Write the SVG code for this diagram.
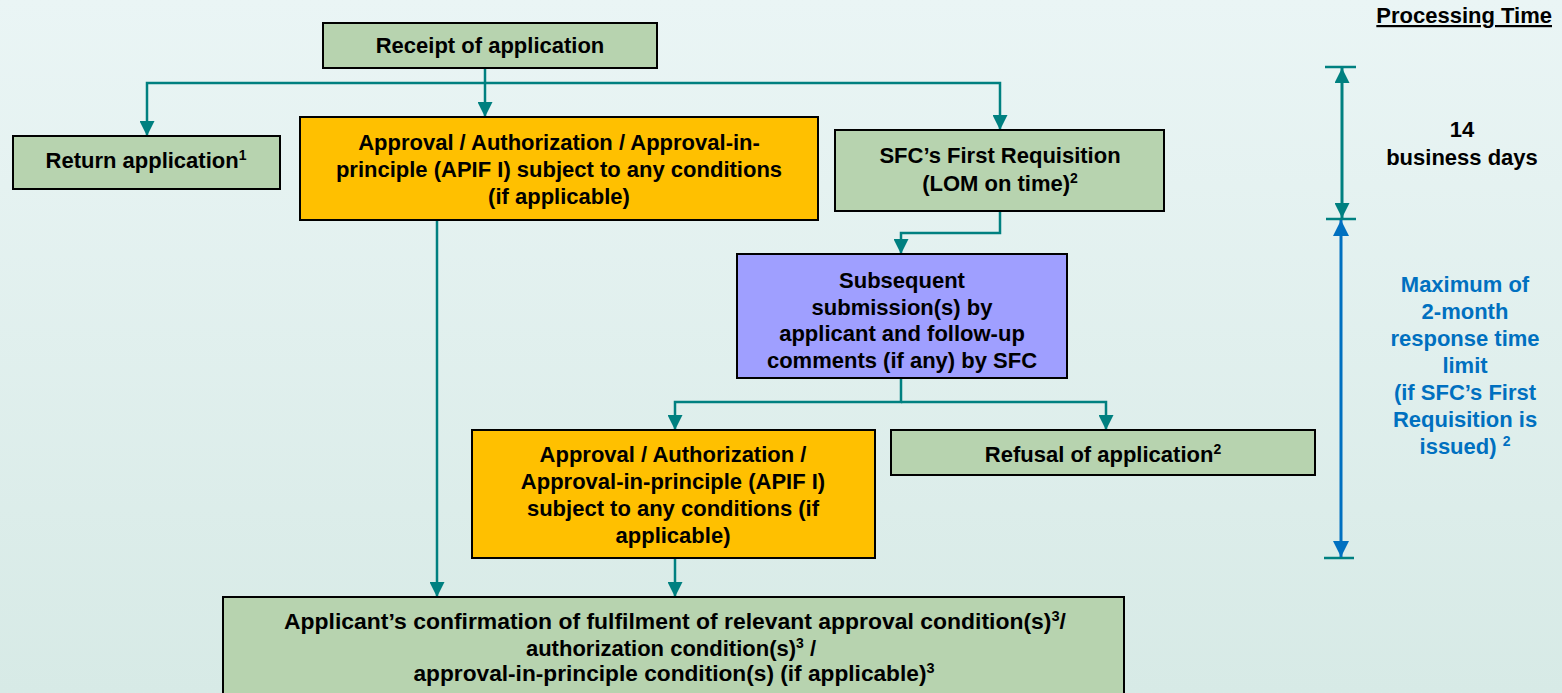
<svg xmlns="http://www.w3.org/2000/svg" width="1562" height="693" viewBox="0 0 1562 693">
<style>
  .t { font-family: "Liberation Sans", Arial, sans-serif; font-weight: bold; font-size: 22px; fill: #000; text-anchor: middle; }
  .blue { fill: #0070C0; }
  .green { fill: #B7D3AF; stroke: #000; stroke-width: 2; }
  .yellow { fill: #FFC000; stroke: #000; stroke-width: 2; }
  .purple { fill: #9F9FFF; stroke: #000; stroke-width: 2; }
  .conn { fill: none; stroke: #008080; stroke-width: 2.5; marker-end: url(#ah); }
  .cap { stroke: #008080; stroke-width: 2.5; }
</style>
<defs>
  <linearGradient id="bg" x1="0" y1="0" x2="0" y2="1">
    <stop offset="0" stop-color="#EAF5F5"/>
    <stop offset="1" stop-color="#D7EAE6"/>
  </linearGradient>
  <marker id="ah" markerUnits="userSpaceOnUse" markerWidth="15" markerHeight="15" viewBox="0 0 14 14" refX="14" refY="7" orient="auto">
    <path d="M0,0 L14,7 L0,14 z" fill="#008080"/>
  </marker>
  <marker id="ahs" markerUnits="userSpaceOnUse" markerWidth="15" markerHeight="15" viewBox="0 0 14 14" refX="14" refY="7" orient="auto-start-reverse">
    <path d="M0,0 L14,7 L0,14 z" fill="#008080"/>
  </marker>
  <marker id="ahb" markerUnits="userSpaceOnUse" markerWidth="16" markerHeight="16" viewBox="0 0 14 14" refX="14" refY="7" orient="auto-start-reverse">
    <path d="M0,0 L14,7 L0,14 z" fill="#0070C0"/>
  </marker>
</defs>
<rect x="0" y="0" width="1562" height="693" fill="url(#bg)"/>

<g id="connectors">
  <path class="conn" d="M485,68 V117"/>
  <path class="conn" d="M485,83 H147 V136"/>
  <path class="conn" d="M485,83 H1000 V130"/>
  <path class="conn" d="M437,220 V597"/>
  <path class="conn" d="M1000,211 V233 H901 V254"/>
  <path class="conn" d="M901,378 V402 H675 V430"/>
  <path class="conn" d="M901,402 H1106 V430"/>
  <path class="conn" d="M675,558 V597"/>
</g>

<g id="receipt">
  <rect class="green" x="323" y="23" width="334" height="45"/>
  <text class="t" x="490" y="53">Receipt of application</text>
</g>

<g id="return">
  <rect class="green" x="13" y="136" width="267" height="53"/>
  <text class="t" x="146" y="168">Return application<tspan font-size="14" dy="-8">1</tspan></text>
</g>

<g id="approval1">
  <rect class="yellow" x="300" y="117" width="518" height="103"/>
  <text class="t" x="559" y="150">Approval / Authorization / Approval-in-</text>
  <text class="t" x="559" y="177">principle (APIF I) subject to any conditions</text>
  <text class="t" x="559" y="204">(if applicable)</text>
</g>

<g id="first-requisition">
  <rect class="green" x="835" y="130" width="329" height="81"/>
  <text class="t" x="1000" y="163">SFC’s First Requisition</text>
  <text class="t" x="1000" y="191">(LOM on time)<tspan font-size="14" dy="-8">2</tspan></text>
</g>

<g id="subsequent">
  <rect class="purple" x="737" y="254" width="330" height="124"/>
  <text class="t" x="902" y="288">Subsequent</text>
  <text class="t" x="902" y="315">submission(s) by</text>
  <text class="t" x="902" y="341">applicant and follow-up</text>
  <text class="t" x="902" y="368">comments (if any) by SFC</text>
</g>

<g id="approval2">
  <rect class="yellow" x="472" y="430" width="403" height="128"/>
  <text class="t" x="673" y="462">Approval / Authorization /</text>
  <text class="t" x="673" y="489">Approval-in-principle (APIF I)</text>
  <text class="t" x="673" y="516">subject to any conditions (if</text>
  <text class="t" x="673" y="543">applicable)</text>
</g>

<g id="refusal">
  <rect class="green" x="891" y="430" width="424" height="45"/>
  <text class="t" x="1103" y="462">Refusal of application<tspan font-size="14" dy="-8">2</tspan></text>
</g>

<g id="confirmation">
  <rect class="green" x="223" y="597" width="901" height="110"/>
  <text class="t" x="675" y="629" textLength="782" lengthAdjust="spacingAndGlyphs">Applicant’s confirmation of fulfilment of relevant approval condition(s)<tspan font-size="14" dy="-8">3</tspan><tspan dy="8">/</tspan></text>
  <text class="t" x="671" y="656">authorization condition(s)<tspan font-size="14" dy="-8">3</tspan><tspan dy="8"> /</tspan></text>
  <text class="t" x="674" y="681" textLength="521" lengthAdjust="spacingAndGlyphs">approval-in-principle condition(s) (if applicable)<tspan font-size="14" dy="-8">3</tspan></text>
</g>

<g id="processing-time">
  <text class="t" x="1552" y="23" style="text-anchor:end; text-decoration:underline">Processing Time</text>
  <line class="cap" x1="1325" y1="67" x2="1356" y2="67"/>
  <line class="cap" x1="1326" y1="219" x2="1356" y2="219"/>
  <line class="cap" x1="1324" y1="558" x2="1354" y2="558"/>
  <line x1="1342" y1="68" x2="1342" y2="218" stroke="#008080" stroke-width="3" marker-start="url(#ahs)" marker-end="url(#ahs)"/>
  <line x1="1341" y1="220" x2="1341" y2="557" stroke="#0070C0" stroke-width="3" marker-start="url(#ahb)" marker-end="url(#ahb)"/>
  <text class="t" x="1462" y="137">14</text>
  <text class="t" x="1462" y="165">business days</text>
  <text class="t blue" x="1465" y="292">Maximum of</text>
  <text class="t blue" x="1465" y="319">2-month</text>
  <text class="t blue" x="1465" y="346">response time</text>
  <text class="t blue" x="1465" y="373">limit</text>
  <text class="t blue" x="1465" y="400">(if SFC’s First</text>
  <text class="t blue" x="1465" y="427">Requisition is</text>
  <text class="t blue" x="1465" y="454">issued) <tspan font-size="14" dy="-8">2</tspan></text>
</g>
</svg>
